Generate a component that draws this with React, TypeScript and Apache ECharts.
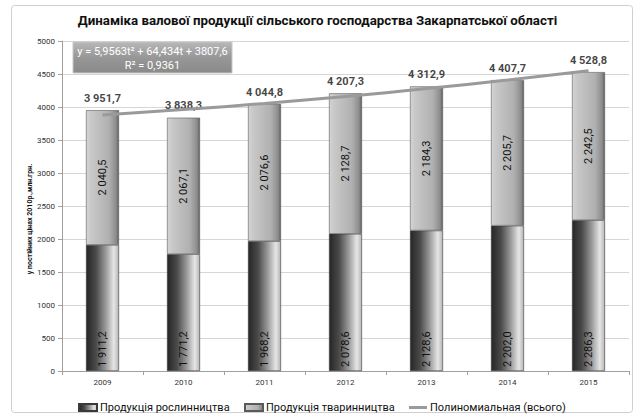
import React, { useEffect, useRef } from 'react';
import * as echarts from 'echarts';

const years = ['2009', '2010', '2011', '2012', '2013', '2014', '2015'];
const plantValues = [1911.2, 1771.2, 1968.2, 2078.6, 2128.6, 2202.0, 2286.3];
const animalValues = [2040.5, 2067.1, 2076.6, 2128.7, 2184.3, 2205.7, 2242.5];
const totalValues = [3951.7, 3838.3, 4044.8, 4207.3, 4312.9, 4407.7, 4528.8];
const trendValues = [3878.0, 3960.3, 4054.5, 4160.6, 4278.7, 4408.6, 4550.5];
const seriesNames = ['Продукція рослинництва', 'Продукція тваринництва', 'Полиномиальная (всього)'];
const titleText = 'Динаміка валової продукції сільського господарства Закарпатської області';
const yAxisName = 'у постійних цінах 2010р.,млн.грн.';
const equationLine1 = 'y = 5,9563t² + 64,434t + 3807,6';
const equationLine2 = 'R² = 0,9361';
const yMin = 0;
const yMax = 5000;
const yStep = 500;

const FONT = 'Roboto';

function fmt(v: number): string {
  const [i, d] = v.toFixed(1).split('.');
  return i.replace(/\B(?=(\d{3})+(?!\d))/g, ' ') + ',' + d;
}

export default function App() {
  const ref = useRef<HTMLDivElement>(null);
  useEffect(() => {
    if (!ref.current) return;
    const chart = echarts.init(ref.current, undefined, { renderer: 'svg' });
    const darkGrad = new echarts.graphic.LinearGradient(0, 0, 1, 0, [
      { offset: 0, color: '#262626' },
      { offset: 0.3, color: '#4a4a4a' },
      { offset: 0.6, color: '#9a9a9a' },
      { offset: 0.85, color: '#e6e6e6' },
      { offset: 1, color: '#b5b5b5' },
    ]);
    const lightGrad = new echarts.graphic.LinearGradient(0, 0, 1, 0, [
      { offset: 0, color: '#d4d4d4' },
      { offset: 0.15, color: '#c8c8c8' },
      { offset: 0.7, color: '#b0b0b0' },
      { offset: 0.92, color: '#8c8c8c' },
      { offset: 1, color: '#5e5e5e' },
    ]);
    const boxGrad = new echarts.graphic.LinearGradient(0, 0, 0, 1, [
      { offset: 0, color: '#b8b8b8' },
      { offset: 0.5, color: '#979797' },
      { offset: 1, color: '#8a8a8a' },
    ]);
    const legendBase = {
      top: 397,
      itemWidth: 18,
      itemHeight: 7,
      itemGap: 4,
      symbolKeepAspect: true,
      textStyle: { fontSize: 11, color: '#111', fontFamily: FONT, padding: [0, 0, 0, -2] },
    };
    chart.setOption({
      animation: false,
      backgroundColor: '#ffffff',
      textStyle: { fontFamily: FONT },
      title: {
        text: titleText,
        left: 'center',
        top: 9,
        textStyle: { fontSize: 13.3, fontWeight: 'bold', color: '#111', fontFamily: FONT },
      },
      grid: { left: 62, right: 6, top: 41, bottom: 46, containLabel: false },
      legend: [
        { ...legendBase, left: 73, data: [{ name: seriesNames[0], icon: 'rect' }] },
        { ...legendBase, left: 239, data: [{ name: seriesNames[1], icon: 'rect' }] },
        {
          ...legendBase,
          left: 404,
          data: [{ name: seriesNames[2], icon: 'path://M0,0 H18 V3 H0 Z' }],
        },
      ],
      xAxis: {
        type: 'category',
        data: years,
        axisLine: { lineStyle: { color: '#a0a0a0' } },
        axisTick: { show: true, length: 4, lineStyle: { color: '#a0a0a0' } },
        axisLabel: { fontSize: 8, color: '#333', margin: 7 },
      },
      yAxis: {
        type: 'value',
        min: yMin,
        max: yMax,
        interval: yStep,
        axisLine: { show: true, lineStyle: { color: '#a0a0a0' } },
        axisTick: { show: true, length: 4, lineStyle: { color: '#a0a0a0' } },
        axisLabel: { fontSize: 8, color: '#333', margin: 7, formatter: (v: number) => String(v) },
        splitLine: { lineStyle: { color: '#d6d6d6' } },
      },
      series: [
        {
          name: seriesNames[0],
          type: 'bar',
          stack: 'total',
          barWidth: 33,
          data: plantValues,
          itemStyle: { color: darkGrad, borderColor: '#3a3a3a', borderWidth: 0.6 },
          label: {
            show: true,
            position: 'insideBottom',
            rotate: 90,
            align: 'left',
            verticalAlign: 'middle',
            distance: 4,
            fontSize: 11,
            color: '#111',
            formatter: (p: any) => fmt(p.value),
          },
          z: 2,
        },
        {
          name: seriesNames[1],
          type: 'bar',
          stack: 'total',
          barWidth: 33,
          data: animalValues,
          itemStyle: { color: lightGrad, borderColor: '#5a5a5a', borderWidth: 0.6 },
          label: {
            show: true,
            position: 'inside',
            rotate: 90,
            align: 'center',
            verticalAlign: 'middle',
            fontSize: 11,
            color: '#111',
            formatter: (p: any) => fmt(p.value),
          },
          z: 2,
        },
        {
          name: 'totals',
          type: 'scatter',
          data: totalValues,
          symbol: 'circle',
          symbolSize: 1,
          itemStyle: { color: 'transparent' },
          label: {
            show: true,
            position: 'top',
            distance: 6,
            fontSize: 11,
            fontWeight: 'bold',
            color: '#111',
            formatter: (p: any) => fmt(p.value),
          },
          z: 3,
          silent: true,
        },
        {
          name: seriesNames[2],
          type: 'line',
          data: trendValues,
          smooth: true,
          symbol: 'none',
          lineStyle: { color: '#9a9a9a', width: 3 },
          itemStyle: { color: '#9a9a9a' },
          z: 5,
        },
      ],
      graphic: [
        {
          type: 'rect',
          shape: { x: 11.5, y: 5.5, width: 621, height: 407, r: 3 },
          style: { fill: 'none', stroke: '#cfcfcf', lineWidth: 1 },
          silent: true,
          z: 0,
        },
        {
          type: 'rect',
          shape: { x: 73, y: 42, width: 159, height: 31 },
          style: { fill: boxGrad, stroke: '#c8c8c8', lineWidth: 1 },
          z: 10,
        },
        {
          type: 'text',
          x: 152.5,
          y: 51,
          style: {
            text: equationLine1,
            fill: '#ffffff',
            fontSize: 11,
            fontFamily: FONT,
            textAlign: 'center',
            textVerticalAlign: 'middle',
          },
          z: 11,
        },
        {
          type: 'text',
          x: 152.5,
          y: 65,
          style: {
            text: equationLine2,
            fill: '#ffffff',
            fontSize: 11,
            fontFamily: FONT,
            textAlign: 'center',
            textVerticalAlign: 'middle',
          },
          z: 11,
        },
        {
          type: 'text',
          x: 30,
          y: 219,
          rotation: Math.PI / 2,
          style: {
            text: yAxisName,
            fill: '#111',
            fontSize: 7,
            fontWeight: 'bold',
            fontFamily: FONT,
            textAlign: 'center',
            textVerticalAlign: 'middle',
          },
          z: 10,
        },
      ],
    });
    return () => chart.dispose();
  }, []);
  return (
    <div
      ref={ref}
      style={{ position: 'fixed', left: 0, top: 0, width: 635, height: 417 }}
    />
  );
}
